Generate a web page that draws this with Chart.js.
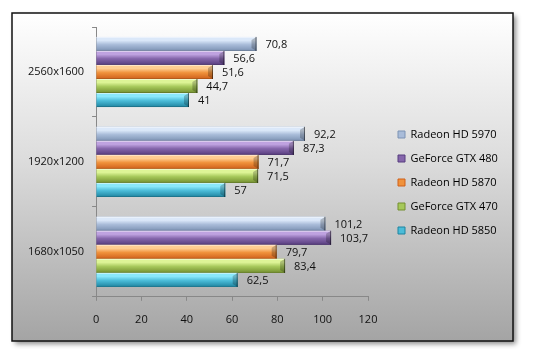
<!DOCTYPE html>
<html>
<head>
<meta charset="utf-8">
<script src="https://cdn.jsdelivr.net/npm/chart.js@4"></script>
<style>
  body { margin: 0; background: #fff; }
  #wrap { width: 538px; height: 352px; position: relative; }
</style>
</head>
<body>
<div id="wrap"><canvas id="chart"></canvas></div>
<script>
// Categories (top to bottom) and the values per card
const resolutions = ["2560x1600", "1920x1200", "1680x1050"];
const cards = ["Radeon HD 5970", "GeForce GTX 480", "Radeon HD 5870", "GeForce GTX 470", "Radeon HD 5850"];
const hd5970 = [70.8, 92.2, 101.2];
const gtx480 = [56.6, 87.3, 103.7];
const hd5870 = [51.6, 71.7, 79.7];
const gtx470 = [44.7, 71.5, 83.4];
const hd5850 = [41, 57, 62.5];
const xTicks = [0, 20, 40, 60, 80, 100, 120];

// light / mid / dark shade for each card
const shades = [
  ["#dbe8f9", "#a9bcd9", "#7d93b4"],
  ["#bfa2e0", "#8566ab", "#573d7e"],
  ["#ffcd92", "#f0923c", "#cf601b"],
  ["#ddf496", "#a6c85a", "#748f30"],
  ["#8ae8fb", "#4bbcd8", "#1f84a0"],
];

const series = [hd5970, gtx480, hd5870, gtx470, hd5850];
const FONT = "'Open Sans', 'DejaVu Sans', sans-serif";

function fmt(v) {
  return String(v).replace(".", ",");
}

// frame with grey gradient and drop shadow
const framePlugin = {
  id: "frame",
  beforeDraw(chart) {
    const ctx = chart.ctx;
    const x = 12, y = 13, w = 501, h = 328;
    ctx.save();
    ctx.shadowColor = "rgba(0,0,0,0.45)";
    ctx.shadowBlur = 5;
    ctx.shadowOffsetX = 3;
    ctx.shadowOffsetY = 3;
    const g = ctx.createLinearGradient(0, y, 0, y + h);
    g.addColorStop(0, "#ffffff");
    g.addColorStop(0.45, "#dcdcdc");
    g.addColorStop(1, "#a4a4a4");
    ctx.fillStyle = g;
    ctx.fillRect(x, y, w, h);
    ctx.shadowColor = "transparent";
    ctx.lineWidth = 1.5;
    ctx.strokeStyle = "#111";
    ctx.strokeRect(x, y, w, h);
    ctx.restore();
  },
};

// paint bevel-like shading over each bar and write the value next to it
const barLookPlugin = {
  id: "barLook",
  afterDatasetsDraw(chart) {
    const ctx = chart.ctx;
    ctx.save();
    chart.data.datasets.forEach((ds, di) => {
      const meta = chart.getDatasetMeta(di);
      const [light, mid, dark] = shades[di];
      meta.data.forEach((el, i) => {
        const p = el.getProps(["x", "y", "base", "height"], true);
        const left = Math.min(p.base, p.x);
        const right = Math.max(p.base, p.x);
        const top = p.y - p.height / 2;
        const bottom = p.y + p.height / 2;

        const g = ctx.createLinearGradient(0, top, 0, bottom);
        g.addColorStop(0, light);
        g.addColorStop(0.25, light);
        g.addColorStop(0.55, mid);
        g.addColorStop(1, dark);
        ctx.fillStyle = g;
        ctx.fillRect(left, top, right - left, bottom - top);

        // top highlight and bottom edge
        ctx.fillStyle = "rgba(255,255,255,0.5)";
        ctx.fillRect(left, top, right - left, 1);
        ctx.fillStyle = "rgba(0,0,0,0.15)";
        ctx.fillRect(left, bottom - 1, right - left, 1);

        // chamfered right end
        ctx.beginPath();
        ctx.moveTo(right - 5, top + 3);
        ctx.lineTo(right, top);
        ctx.lineTo(right, bottom);
        ctx.lineTo(right - 5, bottom - 3);
        ctx.closePath();
        ctx.fillStyle = "rgba(0,0,0,0.22)";
        ctx.fill();
        ctx.fillStyle = "rgba(0,0,0,0.45)";
        ctx.fillRect(right - 1, top, 1, bottom - top);

        // value label
        ctx.fillStyle = "#111";
        ctx.font = "11px " + FONT;
        ctx.textAlign = "left";
        ctx.textBaseline = "middle";
        ctx.fillText(fmt(ds.data[i]), right + 9, p.y + 1);
      });
    });
    ctx.restore();
  },
};

const datasets = cards.map((name, i) => ({
  label: name,
  data: series[i],
  backgroundColor: shades[i][1],
  borderColor: shades[i][2],
  borderWidth: 0,
  barPercentage: 1,
  categoryPercentage: 0.78,
}));

new Chart(document.getElementById("chart"), {
  type: "bar",
  data: { labels: resolutions, datasets: datasets },
  plugins: [framePlugin, barLookPlugin],
  options: {
    indexAxis: "y",
    responsive: true,
    maintainAspectRatio: false,
    animation: false,
    layout: { padding: { left: 20, top: 27, bottom: 14, right: 31 } },
    plugins: {
      tooltip: { enabled: false },
      legend: {
        position: "right",
        maxWidth: 122,
        labels: {
          boxWidth: 7,
          boxHeight: 7,
          padding: 13,
          color: "#111",
          font: { family: FONT, size: 11 },
          generateLabels(chart) {
            return chart.data.datasets.map((ds, i) => ({
              text: ds.label,
              fillStyle: shades[i][1],
              strokeStyle: shades[i][2],
              lineWidth: 1,
              datasetIndex: i,
            }));
          },
        },
      },
    },
    scales: {
      x: {
        min: 0,
        max: 120,
        afterBuildTicks(scale) {
          scale.ticks = xTicks.map((v) => ({ value: v }));
        },
        grid: { drawOnChartArea: false, tickLength: 4, color: "#888" },
        border: { color: "#888" },
        ticks: { color: "#111", padding: 12, font: { family: FONT, size: 11 } },
      },
      y: {
        grid: { drawOnChartArea: false, offset: true, tickLength: 4, color: "#888" },
        border: { color: "#888" },
        ticks: { color: "#111", padding: 8, font: { family: FONT, size: 11 } },
      },
      // empty spacer between the plot and the legend
      gap: {
        type: "linear",
        position: "right",
        grid: { display: false },
        border: { display: false },
        ticks: { display: false },
        afterFit(scale) {
          scale.width = 17;
        },
      },
    },
  },
});
</script>
</body>
</html>
